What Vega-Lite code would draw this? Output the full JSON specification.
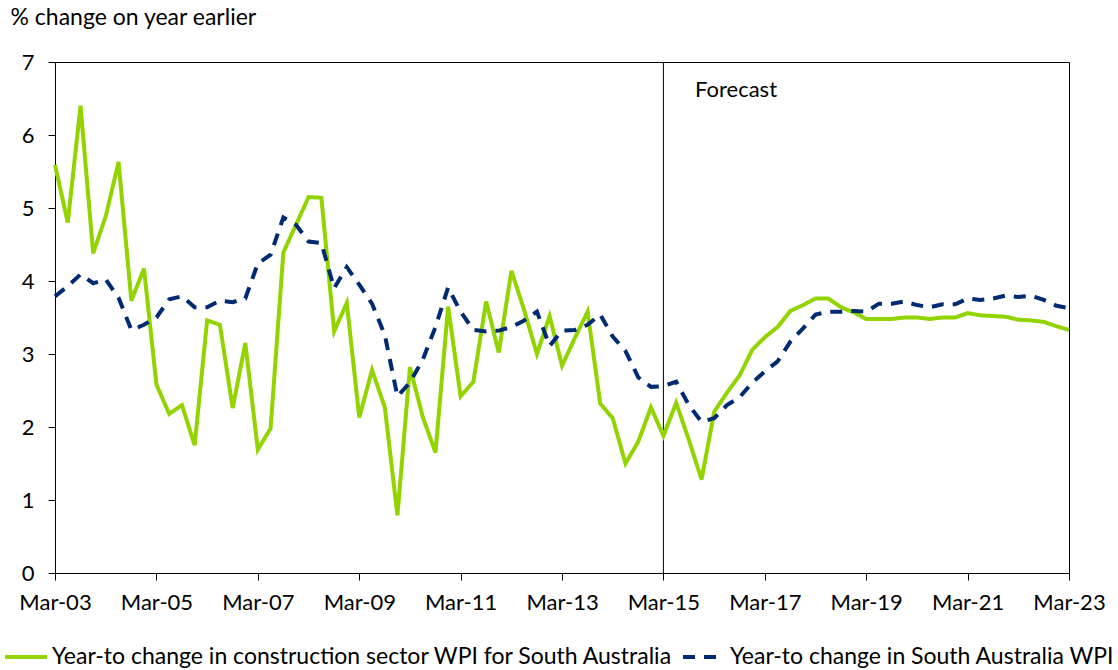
{
  "$schema": "https://vega.github.io/schema/vega-lite/v6.json",
  "width": 1014,
  "height": 511,
  "autosize": {"type": "none"},
  "padding": {"left": 55, "top": 62, "right": 49, "bottom": 97},
  "background": "white",
  "config": {
    "view": {"stroke": "black", "strokeWidth": 1},
    "font": "Lato",
    "axis": {"grid": false, "domainColor": "black", "tickColor": "black", "tickSize": 7, "labelColor": "black", "labelFont": "Lato", "labelFontSize": 22, "titleFont": "Lato", "titleColor": "black"}
  },
  "datasets": {
    "wpi": [
      {"d": "2003-03-01", "c": 5.59, "s": 3.79},
      {"d": "2003-06-01", "c": 4.80, "s": 3.93},
      {"d": "2003-09-01", "c": 6.40, "s": 4.09},
      {"d": "2003-12-01", "c": 4.38, "s": 3.97},
      {"d": "2004-03-01", "c": 4.89, "s": 4.02},
      {"d": "2004-06-01", "c": 5.63, "s": 3.77},
      {"d": "2004-09-01", "c": 3.73, "s": 3.33},
      {"d": "2004-12-01", "c": 4.17, "s": 3.40},
      {"d": "2005-03-01", "c": 2.58, "s": 3.50},
      {"d": "2005-06-01", "c": 2.18, "s": 3.75},
      {"d": "2005-09-01", "c": 2.30, "s": 3.79},
      {"d": "2005-12-01", "c": 1.75, "s": 3.64},
      {"d": "2006-03-01", "c": 3.46, "s": 3.64},
      {"d": "2006-06-01", "c": 3.40, "s": 3.73},
      {"d": "2006-09-01", "c": 2.26, "s": 3.71},
      {"d": "2006-12-01", "c": 3.15, "s": 3.76},
      {"d": "2007-03-01", "c": 1.69, "s": 4.24},
      {"d": "2007-06-01", "c": 1.98, "s": 4.36},
      {"d": "2007-09-01", "c": 4.39, "s": 4.87},
      {"d": "2007-12-01", "c": 4.77, "s": 4.77},
      {"d": "2008-03-01", "c": 5.15, "s": 4.54},
      {"d": "2008-06-01", "c": 5.14, "s": 4.52},
      {"d": "2008-09-01", "c": 3.31, "s": 3.90},
      {"d": "2008-12-01", "c": 3.70, "s": 4.19},
      {"d": "2009-03-01", "c": 2.13, "s": 3.95},
      {"d": "2009-06-01", "c": 2.78, "s": 3.69},
      {"d": "2009-09-01", "c": 2.27, "s": 3.26},
      {"d": "2009-12-01", "c": 0.79, "s": 2.42},
      {"d": "2010-03-01", "c": 2.82, "s": 2.61},
      {"d": "2010-06-01", "c": 2.14, "s": 2.92},
      {"d": "2010-09-01", "c": 1.65, "s": 3.37},
      {"d": "2010-12-01", "c": 3.65, "s": 3.91},
      {"d": "2011-03-01", "c": 2.42, "s": 3.58},
      {"d": "2011-06-01", "c": 2.62, "s": 3.33},
      {"d": "2011-09-01", "c": 3.72, "s": 3.31},
      {"d": "2011-12-01", "c": 3.02, "s": 3.32},
      {"d": "2012-03-01", "c": 4.14, "s": 3.37},
      {"d": "2012-06-01", "c": 3.60, "s": 3.46},
      {"d": "2012-09-01", "c": 3.00, "s": 3.58},
      {"d": "2012-12-01", "c": 3.52, "s": 3.11},
      {"d": "2013-03-01", "c": 2.84, "s": 3.32},
      {"d": "2013-06-01", "c": 3.22, "s": 3.33},
      {"d": "2013-09-01", "c": 3.58, "s": 3.40},
      {"d": "2013-12-01", "c": 2.32, "s": 3.54},
      {"d": "2014-03-01", "c": 2.12, "s": 3.24},
      {"d": "2014-06-01", "c": 1.50, "s": 3.04},
      {"d": "2014-09-01", "c": 1.80, "s": 2.68},
      {"d": "2014-12-01", "c": 2.27, "s": 2.55},
      {"d": "2015-03-01", "c": 1.88, "s": 2.56},
      {"d": "2015-06-01", "c": 2.33, "s": 2.62},
      {"d": "2015-09-01", "c": 1.82, "s": 2.30},
      {"d": "2015-12-01", "c": 1.28, "s": 2.07},
      {"d": "2016-03-01", "c": 2.21, "s": 2.12},
      {"d": "2016-06-01", "c": 2.47, "s": 2.30},
      {"d": "2016-09-01", "c": 2.71, "s": 2.41},
      {"d": "2016-12-01", "c": 3.06, "s": 2.61},
      {"d": "2017-03-01", "c": 3.23, "s": 2.76},
      {"d": "2017-06-01", "c": 3.37, "s": 2.90},
      {"d": "2017-09-01", "c": 3.59, "s": 3.17},
      {"d": "2017-12-01", "c": 3.67, "s": 3.35},
      {"d": "2018-03-01", "c": 3.76, "s": 3.54},
      {"d": "2018-06-01", "c": 3.76, "s": 3.58},
      {"d": "2018-09-01", "c": 3.64, "s": 3.58},
      {"d": "2018-12-01", "c": 3.57, "s": 3.59},
      {"d": "2019-03-01", "c": 3.48, "s": 3.58},
      {"d": "2019-06-01", "c": 3.48, "s": 3.69},
      {"d": "2019-09-01", "c": 3.48, "s": 3.69},
      {"d": "2019-12-01", "c": 3.50, "s": 3.72},
      {"d": "2020-03-01", "c": 3.50, "s": 3.67},
      {"d": "2020-06-01", "c": 3.48, "s": 3.64},
      {"d": "2020-09-01", "c": 3.50, "s": 3.68},
      {"d": "2020-12-01", "c": 3.50, "s": 3.68},
      {"d": "2021-03-01", "c": 3.56, "s": 3.76},
      {"d": "2021-06-01", "c": 3.53, "s": 3.74},
      {"d": "2021-09-01", "c": 3.52, "s": 3.76},
      {"d": "2021-12-01", "c": 3.51, "s": 3.80},
      {"d": "2022-03-01", "c": 3.47, "s": 3.78},
      {"d": "2022-06-01", "c": 3.46, "s": 3.80},
      {"d": "2022-09-01", "c": 3.44, "s": 3.74},
      {"d": "2022-12-01", "c": 3.38, "s": 3.66},
      {"d": "2023-03-01", "c": 3.33, "s": 3.63}
    ]
  },
  "encoding": {
    "x": {
      "field": "d",
      "type": "temporal",
      "scale": {
        "type": "utc",
        "domain": [{"year": 2003, "month": 3, "date": 1, "utc": true}, {"year": 2023, "month": 3, "date": 1, "utc": true}]
      },
      "axis": {
        "title": null,
        "format": "%b-%y",
        "labelPadding": 12,
        "labelAlign": "center",
        "labelOverlap": false,
        "values": [
          {"year": 2003, "month": 3, "date": 1, "utc": true},
          {"year": 2005, "month": 3, "date": 1, "utc": true},
          {"year": 2007, "month": 3, "date": 1, "utc": true},
          {"year": 2009, "month": 3, "date": 1, "utc": true},
          {"year": 2011, "month": 3, "date": 1, "utc": true},
          {"year": 2013, "month": 3, "date": 1, "utc": true},
          {"year": 2015, "month": 3, "date": 1, "utc": true},
          {"year": 2017, "month": 3, "date": 1, "utc": true},
          {"year": 2019, "month": 3, "date": 1, "utc": true},
          {"year": 2021, "month": 3, "date": 1, "utc": true},
          {"year": 2023, "month": 3, "date": 1, "utc": true}
        ]
      }
    },
    "y": {
      "field": "value",
      "type": "quantitative",
      "scale": {"domain": [0, 7], "nice": false, "zero": true},
      "axis": {
        "values": [0, 1, 2, 3, 4, 5, 6, 7],
        "labelPadding": 14,
        "title": "% change on year earlier",
        "titleAngle": 0,
        "titleAlign": "left",
        "titleBaseline": "alphabetic",
        "titleX": -45,
        "titleY": -38,
        "titleFontSize": 23,
        "titleFontWeight": "normal"
      }
    }
  },
  "layer": [
    {
      "data": {"values": [{"d": "2015-03-01"}]},
      "mark": {"type": "rule", "color": "black", "strokeWidth": 1},
      "encoding": {"y": null}
    },
    {
      "data": {"name": "wpi"},
      "transform": [{"fold": ["c", "s"], "as": ["k", "value"]}],
      "mark": {"type": "line", "strokeWidth": 4, "strokeCap": "butt"},
      "encoding": {
        "color": {
          "field": "k",
          "type": "nominal",
          "scale": {"domain": ["c", "s"], "range": ["#92D400", "#002A72"]},
          "legend": {
            "orient": "none",
            "legendX": -52,
            "legendY": 572,
            "direction": "horizontal",
            "title": null,
            "padding": 0,
            "symbolType": "stroke",
            "symbolSize": 1764,
            "symbolStrokeWidth": 4,
            "labelFont": "Lato",
            "labelFontSize": 23,
            "labelColor": "black",
            "labelLimit": 0,
            "labelOffset": 3,
            "columnPadding": 1,
            "labelExpr": "datum.value == 'c' ? 'Year-to change in construction sector WPI for South Australia' : 'Year-to change in South Australia WPI'"
          }
        },
        "strokeDash": {
          "field": "k",
          "type": "nominal",
          "scale": {"domain": ["c", "s"], "range": [[1, 0], [12, 9]]},
          "legend": {
            "orient": "none",
            "legendX": -52,
            "legendY": 572,
            "direction": "horizontal",
            "title": null,
            "padding": 0,
            "symbolType": "stroke",
            "symbolSize": 1764,
            "symbolStrokeWidth": 4,
            "labelFont": "Lato",
            "labelFontSize": 23,
            "labelColor": "black",
            "labelLimit": 0,
            "labelOffset": 3,
            "columnPadding": 1,
            "labelExpr": "datum.value == 'c' ? 'Year-to change in construction sector WPI for South Australia' : 'Year-to change in South Australia WPI'"
          }
        }
      }
    },
    {
      "data": {"values": [{"d": "2015-10-15", "value": 6.52, "label": "Forecast"}]},
      "mark": {"type": "text", "align": "left", "baseline": "alphabetic", "fontSize": 22, "font": "Lato", "color": "black"},
      "encoding": {
        "text": {"field": "label"}
      }
    }
  ]
}
